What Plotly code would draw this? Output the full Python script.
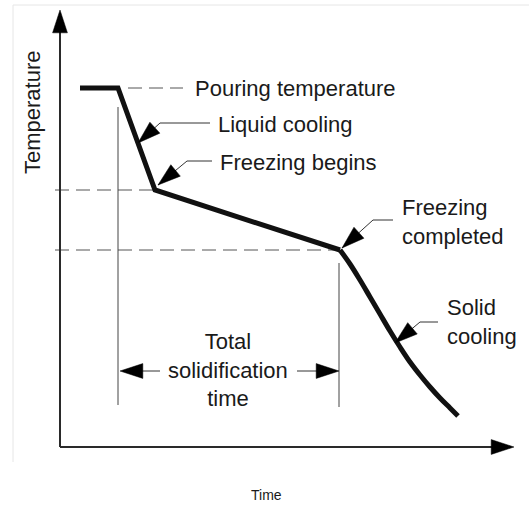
import plotly.graph_objects as go

# Cooling curve of a pure metal (arbitrary time / temperature units)
time_liquid = [20, 58, 95, 280]
temp_liquid = [359, 359, 257, 197]

time_solid = [280, 290, 300, 310, 320, 330, 340, 350, 360, 370, 380, 390, 398]
temp_solid = [197, 183, 167, 150, 133, 116, 100, 85, 72, 60, 49, 39, 31]

# Characteristic points
t_pour_end = 58          # end of pouring
t_freeze_start = 95      # freezing begins
t_freeze_end = 280       # freezing completed
T_pour = 359
T_freeze_start = 257
T_freeze_end = 197

# Axis extents
t_axis_max = 454
T_axis_max = 437

INK = "#111111"
THIN = "#333333"
FONT = "Liberation Sans, Arial, sans-serif"
FS = 22

fig = go.Figure()

# cooling curve
fig.add_trace(go.Scatter(x=time_liquid, y=temp_liquid, mode="lines",
                         line=dict(color=INK, width=5), hoverinfo="skip"))
fig.add_trace(go.Scatter(x=time_solid, y=temp_solid, mode="lines",
                         line=dict(color=INK, width=5, shape="spline", smoothing=1.0),
                         hoverinfo="skip"))

def seg(x0, y0, x1, y1, color=THIN, width=1, dash=None):
    fig.add_shape(type="line", x0=x0, y0=y0, x1=x1, y1=y1, xref="x", yref="y",
                  line=dict(color=color, width=width, dash=dash), layer="below")

def arrow(xs, ys, width=1, size=24, color=THIN, head="#000000"):
    """Polyline ending in an arrowhead pointing along its last segment."""
    n = len(xs)
    fig.add_trace(go.Scatter(
        x=xs, y=ys, mode="lines+markers", hoverinfo="skip",
        line=dict(color=color, width=width),
        marker=dict(symbol="arrow", angleref="previous", color=head, opacity=1,
                    size=[0] * (n - 1) + [size], line=dict(width=0.5, color=head))))

def label(x, y, text, xanchor="left", align="left", size=FS, angle=0):
    fig.add_annotation(x=x, y=y, xref="x", yref="y", text=text, showarrow=False,
                       xanchor=xanchor, yanchor="middle", align=align, textangle=angle,
                       font=dict(family=FONT, size=size, color="#1a1a1a"))

# faint frame
seg(-47, 442, 469, 442, color="#e6e6e6", width=1)
seg(-47, 442, -47, -15, color="#e6e6e6", width=1)

# axes
arrow([0, t_axis_max], [0, 0], width=2, size=24, color="#2a2a2a")
arrow([0, 0], [0, T_axis_max], width=2, size=24, color="#2a2a2a")

# dashed reference levels
seg(68, T_pour, 123, T_pour, color="#555555", dash="14px,7px")
seg(-5, T_freeze_start, t_freeze_start, T_freeze_start, color="#555555", dash="14px,7px")
seg(-5, T_freeze_end, t_freeze_end, T_freeze_end, color="#555555", dash="14px,7px")

# vertical markers bounding the solidification time
seg(t_pour_end, 340, t_pour_end, 42, color="#444444")
seg(t_freeze_end - 1, 184, t_freeze_end - 1, 40, color="#444444")

# leaders
arrow([150, 100, 78], [324, 324, 304])
arrow([152, 127, 98], [286, 286, 262])
arrow([333, 313, 282], [227, 227, 199])
arrow([378, 360, 335], [125, 125, 104])
arrow([100, 60], [76, 76])
arrow([237, 279], [76, 76])

# labels
label(133, T_pour, "Pouring temperature")
label(156, 323, "Liquid cooling")
label(158, 285, "Freezing begins")
label(340, 225, "Freezing<br>completed")
label(385, 125, "Solid<br>cooling")
label(168, 77, "Total<br>solidification<br>time", xanchor="center", align="center")
label(-28, 335, "Temperature", xanchor="center", angle=-90)
label(206, -48, "Time", xanchor="center", size=14)

fig.update_layout(
    width=529, height=505,
    margin=dict(l=0, r=0, t=0, b=0),
    paper_bgcolor="white", plot_bgcolor="white",
    showlegend=False,
    xaxis=dict(range=[-60, 469], visible=False, fixedrange=True),
    yaxis=dict(range=[-58, 447], visible=False, fixedrange=True),
)

fig.write_html("out.html")
